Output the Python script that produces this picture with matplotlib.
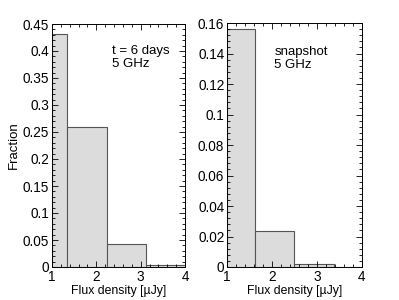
import matplotlib
matplotlib.use("Agg")
import matplotlib.pyplot as plt
from matplotlib.ticker import MultipleLocator, AutoMinorLocator

plt.rcParams["font.family"] = ["Liberation Sans", "DejaVu Sans"]

# left panel: t = 6 days
edges_6d = [1.0, 1.34, 2.23, 3.12, 4.0]
frac_6d = [0.432, 0.26, 0.043, 0.004]

# right panel: snapshot
edges_snap = [1.0, 1.63, 2.5, 3.37, 4.0]
frac_snap = [0.156, 0.0235, 0.002, 0.0003]

fig = plt.figure(figsize=(3.99, 3.0), dpi=100)
ax1 = fig.add_axes([0.130, 0.11, 0.334, 0.81])
ax2 = fig.add_axes([0.569, 0.11, 0.338, 0.813])


def draw(ax, edges, vals, ymax, ystep, label, tx, ty):
    lefts = edges[:-1]
    widths = [edges[i + 1] - edges[i] for i in range(len(vals))]
    ax.bar(lefts, vals, width=widths, align="edge",
           color="#dcdcdc", edgecolor="#555555", linewidth=0.8)
    ax.set_xlim(1, 4)
    ax.set_ylim(0, ymax)
    ax.xaxis.set_major_locator(MultipleLocator(1))
    ax.xaxis.set_minor_locator(AutoMinorLocator(5))
    ax.yaxis.set_major_locator(MultipleLocator(ystep))
    ax.yaxis.set_minor_locator(AutoMinorLocator(5))
    ax.tick_params(which="both", direction="in", top=True, right=True,
                   labelsize=9.8, width=0.6)
    ax.tick_params(which="major", length=4, pad=2)
    ax.tick_params(which="minor", length=2)
    for s in ax.spines.values():
        s.set_linewidth(0.7)
    ax.set_xlabel("Flux density [\u00b5Jy]", fontsize=8.8, labelpad=1)
    ax.yaxis.set_major_formatter(plt.FuncFormatter(lambda v, p: f"{v:g}"))
    ax.text(tx, ty, label, transform=ax.transAxes, fontsize=9.5,
            va="top", ha="left", linespacing=1.1)


draw(ax1, edges_6d, frac_6d, 0.45, 0.05, "t = 6 days\n5 GHz", 0.45, 0.915)
draw(ax2, edges_snap, frac_snap, 0.16, 0.02, "snapshot\n5 GHz", 0.35, 0.905)
ax1.set_ylabel("Fraction", fontsize=9.5, labelpad=2)

fig.savefig("out.png", dpi=100)
